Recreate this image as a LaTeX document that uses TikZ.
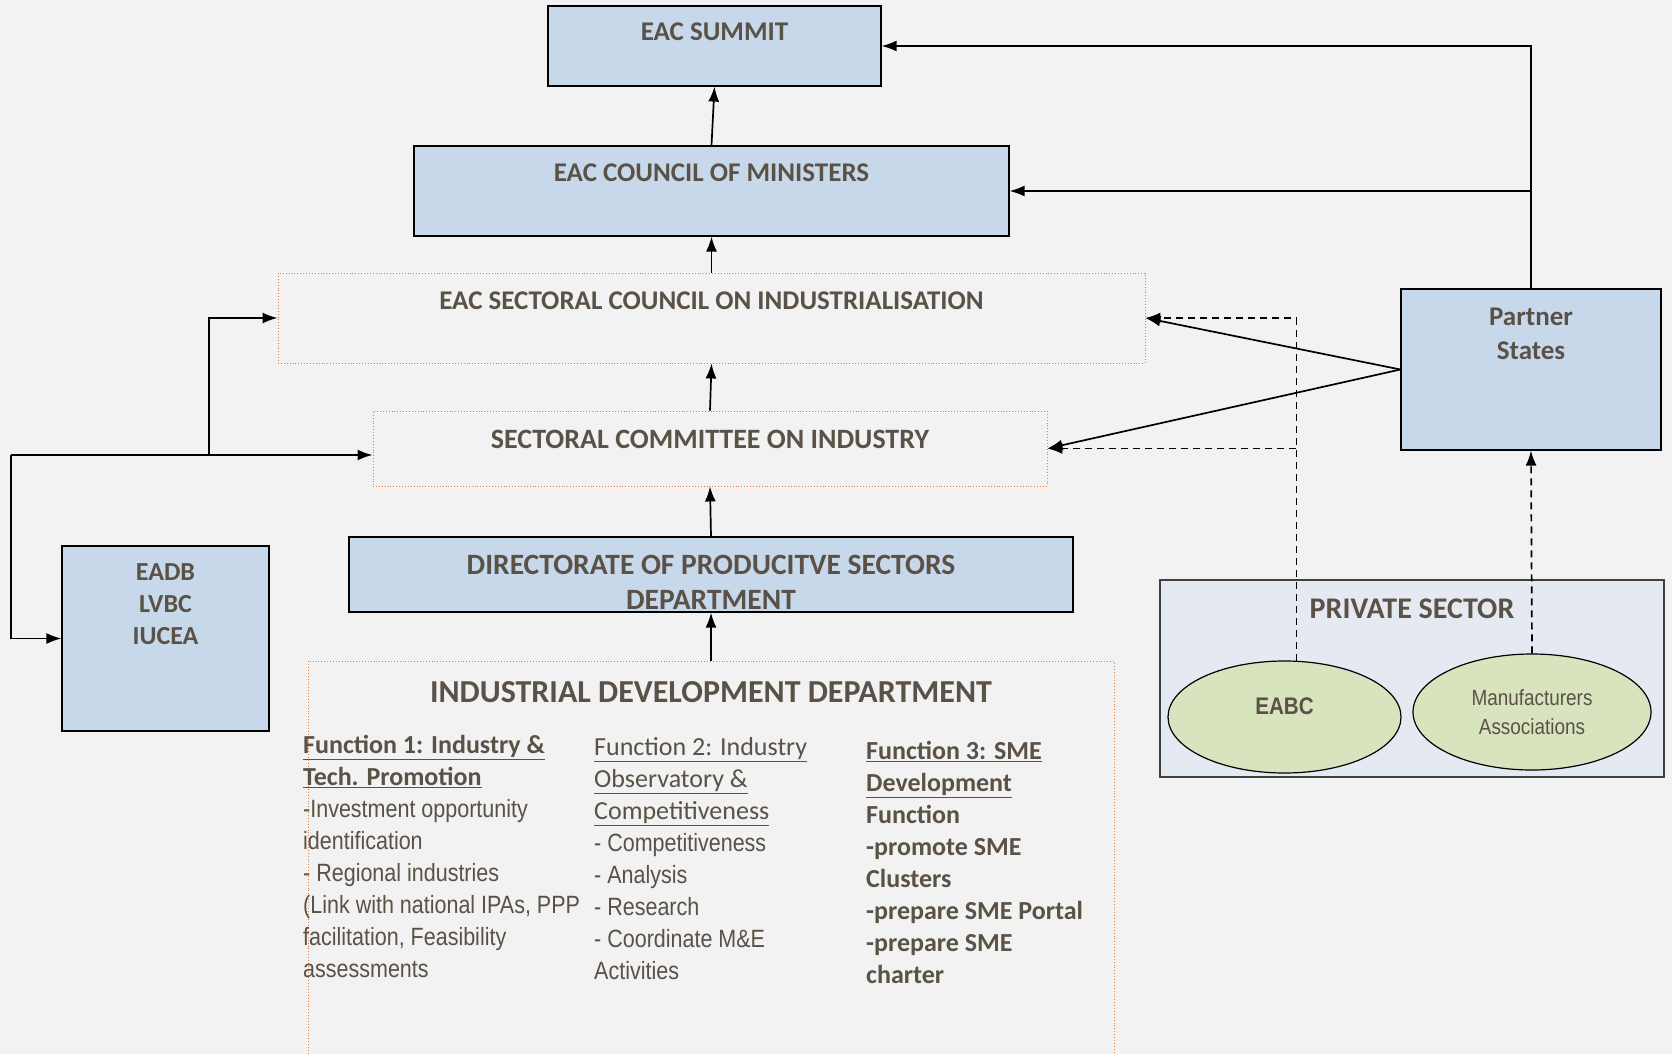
\documentclass[tikz,border=0pt]{standalone}
\usepackage{fontspec}
\setmainfont{Carlito}
\newfontfamily\narrowfont[FakeStretch=0.86]{Liberation Sans}
\usetikzlibrary{arrows.meta}
\usetikzlibrary{positioning}
\usetikzlibrary{shapes.geometric}
\definecolor{bgcolor}{HTML}{F2F2F2}
\definecolor{boxblue}{HTML}{C8D8EB}
\definecolor{ovalgreen}{HTML}{D7E4BD}
\definecolor{privfill}{HTML}{E5E9F1}
\definecolor{textcolor}{HTML}{5A5147}
\definecolor{dotorange}{HTML}{E07B39}
\newcommand{\fsize}[2]{\fontsize{#1}{#2}\selectfont}

\begin{document}
\begin{tikzpicture}[x=1pt,y=-1pt,
  bluebox/.style={draw=black,line width=1.2pt,fill=boxblue,inner sep=0pt},
  dotbox/.style={draw=dotorange,dotted,line width=0.9pt,inner sep=0pt},
  boxtext/.style={text=textcolor,font=\bfseries\fsize{27}{34},inner sep=0pt,align=center},
  coltext/.style={text=textcolor,font=\fsize{26}{32},inner sep=0pt,align=left,anchor=north west},
  oval/.style={ellipse,draw=black,line width=1.2pt,fill=ovalgreen,inner sep=0pt},
  arr/.style={line width=1.7pt,-{Latex[length=15pt,width=11pt]}},
  dasharr/.style={arr,dash pattern=on 7pt off 5pt}]
\useasboundingbox[fill=bgcolor] (0,0) rectangle (1672,1054);
%% boxes of the EAC organs
\node[bluebox,minimum width=333,minimum height=80] (summit) at (714.5,46) {};
\node[boxtext,below=17pt of summit.north] (summittext) {EAC SUMMIT};
\node[bluebox,minimum width=595,minimum height=90] (council) at (711.5,191) {};
\node[boxtext,below=18pt of council.north] (counciltext) {EAC COUNCIL OF MINISTERS};
\node[dotbox,minimum width=867,minimum height=90] (sectoral) at (711.5,318) {};
\node[boxtext,below=19pt of sectoral.north] (sectoraltext) {EAC SECTORAL COUNCIL ON INDUSTRIALISATION};
\node[dotbox,minimum width=674,minimum height=75] (committee) at (710,448.5) {};
\node[boxtext,font=\bfseries\fsize{28}{34},below=19pt of committee.north] (committeetext) {SECTORAL COMMITTEE ON INDUSTRY};
\node[bluebox,minimum width=724,minimum height=75] (directorate) at (711,574.5) {};
\node[boxtext,font=\bfseries\fsize{29.5}{35},below=19pt of directorate.north] (directoratetext) {DIRECTORATE OF PRODUCITVE SECTORS\\DEPARTMENT};
\node[dotbox,minimum width=806,minimum height=409] (idd) at (711,865.5) {};
\node[boxtext,font=\bfseries\fsize{32}{38},below=21pt of idd.north] (iddtext) {INDUSTRIAL DEVELOPMENT DEPARTMENT};
%% the three functions
\node[coltext] (funcone) at (303,735) {%
  {\bfseries\underline{Function 1: Industry \&}}\\
  {\bfseries\underline{Tech. Promotion}}\\
  {\narrowfont\fsize{25}{32}-Investment opportunity}\\
  {\narrowfont\fsize{25}{32}identification}\\
  {\narrowfont\fsize{25}{32}- Regional industries}\\
  {\narrowfont\fsize{25}{32}(Link with national IPAs, PPP}\\
  {\narrowfont\fsize{25}{32}facilitation, Feasibility}\\
  {\narrowfont\fsize{25}{32}assessments}};
\node[coltext] (functwo) at (594,737) {%
  \underline{Function 2: Industry}\\
  \underline{Observatory \&}\\
  \underline{Competitiveness}\\
  {\narrowfont\fsize{25}{32}- Competitiveness}\\
  {\narrowfont\fsize{25}{32}- Analysis}\\
  {\narrowfont\fsize{25}{32}- Research}\\
  {\narrowfont\fsize{25}{32}- Coordinate M\&E}\\
  {\narrowfont\fsize{25}{32}Activities}};
\node[coltext,font=\bfseries\fsize{26}{32}] (functhree) at (866,741) {%
  \underline{Function 3: SME}\\
  \underline{Development}\\
  Function\\
  -promote SME\\
  Clusters\\
  -prepare SME Portal\\
  -prepare SME\\
  charter};
%% regional bodies and partner states
\node[bluebox,minimum width=207,minimum height=185] (eadb) at (165.5,638.5) {};
\node[boxtext,font=\bfseries\fsize{26}{32},below=18pt of eadb.north] (eadbtext) {EADB\\LVBC\\IUCEA};
\node[bluebox,minimum width=260,minimum height=161] (partner) at (1531,369.5) {};
\node[boxtext,font=\bfseries\fsize{27}{34},below=19pt of partner.north] (partnertext) {Partner\\States};
%% private sector
\node[draw=black!75,line width=1.2pt,fill=privfill,minimum width=504,minimum height=197] (private) at (1412,678.5) {};
\node[boxtext,font=\bfseries\fsize{30}{34},below=19pt of private.north] (privatetext) {PRIVATE SECTOR};
\node[oval,minimum width=233,minimum height=112,text depth=22pt,text=textcolor,
  font=\narrowfont\bfseries\fsize{24}{30}] (eabc) at (1284.5,717) {EABC};
\node[oval,minimum width=238,minimum height=116,text=textcolor,align=center,
  font=\narrowfont\fsize{22}{29}] (manu) at (1532,712) {Manufacturers\\Associations};
%% connectors
\foreach \a/\b in {council/summit, sectoral/council, committee/sectoral, directorate/committee, idd/directorate}
  \draw[arr] (\a.north) -- (\b.south);
\draw[arr] (partner.north) |- (summit.east);
\draw[arr] (partner.north |- council.east) -- (council.east);
\draw[arr] (partner.west) -- (sectoral.east);
\draw[arr] (partner.west) -- (committee.east);
\draw[dasharr] (eabc.78) |- (sectoral.east);
\draw[dasharr] (eabc.78 |- committee.east) -- (committee.east);
\draw[dasharr] (manu.north) -- (partner.south);
\coordinate (leftbus) at (10.7,455);
\coordinate (midbus) at (209,455);
\draw[arr] (leftbus) -- (leftbus -| committee.west);
\draw[arr] (leftbus) |- (eadb.west);
\draw[arr] (midbus) |- (sectoral.west);
\end{tikzpicture}
\end{document}
